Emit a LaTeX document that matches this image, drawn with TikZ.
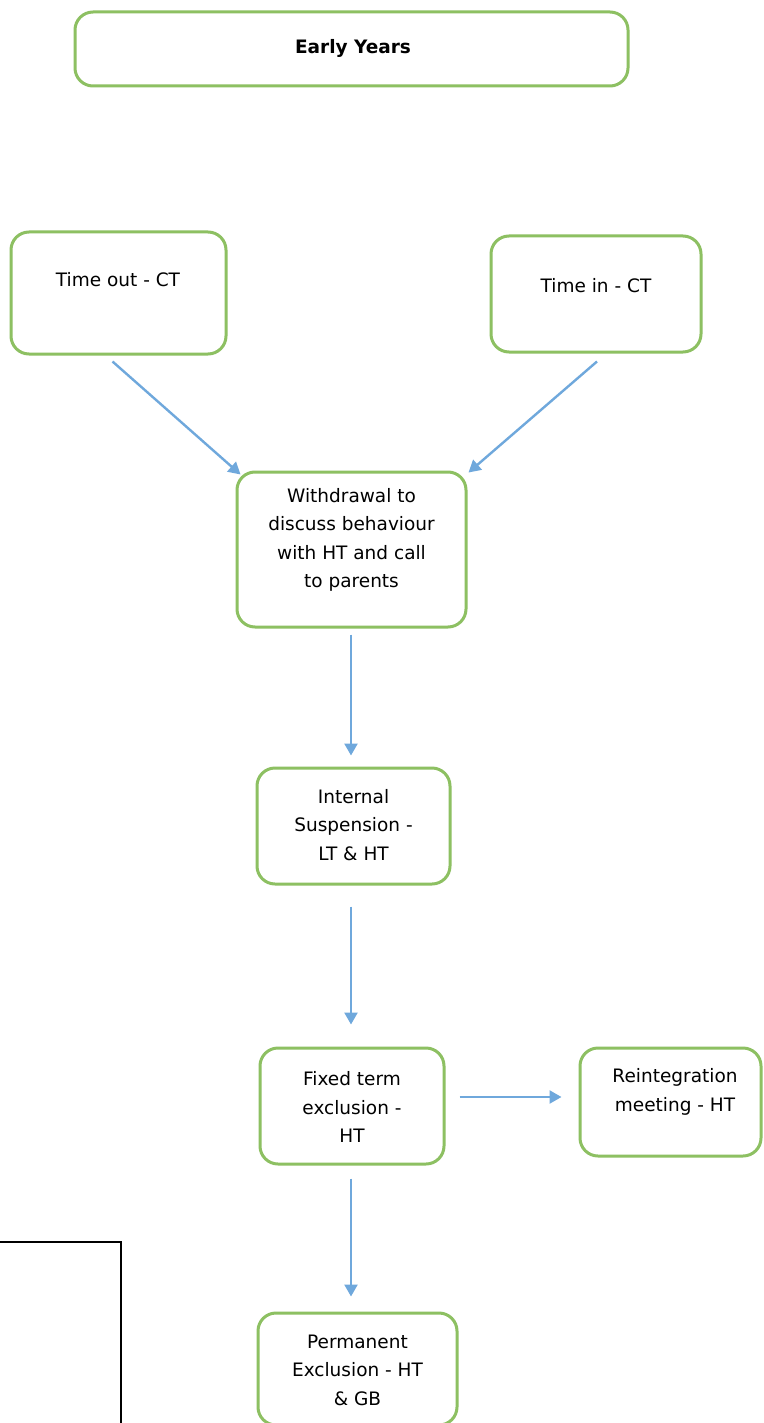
\documentclass[tikz,border=0pt]{standalone}
\usepackage{fontspec}
\setmainfont{DejaVu Sans}
\usetikzlibrary{arrows.meta,calc}
\definecolor{boxgreen}{RGB}{141,192,98}
\definecolor{arrblue}{RGB}{111,168,220}
\tikzset{
  box/.style={draw=boxgreen, line width=3pt, rounded corners=18pt, fill=white, rectangle, inner sep=0pt},
  txt/.style={align=center, font=\fontsize{18.5}{28.5}\selectfont, text=black, inner sep=0pt},
  conn/.style={draw=arrblue, line width=2.4pt, -{Triangle[length=12pt,width=13pt]}}
}
\begin{document}
\begin{tikzpicture}[x=1pt,y=-1pt]
\useasboundingbox (0,0) rectangle (763,1423);
\clip (0,0) rectangle (763,1423);
\fill[white] (0,0) rectangle (763,1423);
% boxes
\node[box, minimum width=553pt, minimum height=74pt] (early) at (351.5,49) {};
\node[txt, font=\fontsize{18.5}{22}\selectfont\bfseries] (earlyT) at (353,48) {Early Years};
\node[box, minimum width=215pt, minimum height=122pt] (timeout) at (118.5,293) {};
\node[txt] (timeoutT) at (118,280) {Time out - CT};
\node[box, minimum width=210pt, minimum height=116pt] (timein) at (596,294) {};
\node[txt] (timeinT) at (596,286) {Time in - CT};
\node[box, minimum width=229pt, minimum height=155pt] (withdraw) at (351.5,549.5) {};
\node[txt] (withdrawT) at (351.5,540) {Withdrawal to\\discuss behaviour\\with HT and call\\to parents};
\node[box, minimum width=193pt, minimum height=116pt] (internal) at (353.5,826) {};
\node[txt] (internalT) at (353.5,825) {Internal\\Suspension -\\LT \& HT};
\node[box, minimum width=184pt, minimum height=116pt] (fixed) at (352,1106) {};
\node[txt] (fixedT) at (352,1107) {Fixed term\\exclusion -\\HT};
\node[box, minimum width=181pt, minimum height=108pt] (reint) at (670.5,1102) {};
\node[txt] (reintT) at (675,1092) {Reintegration\\meeting - HT};
\node[box, minimum width=199pt, minimum height=112pt] (perm) at (357.5,1369) {};
\node[txt] (permT) at (357.5,1370) {Permanent\\Exclusion - HT\\\& GB};
% black rectangle
\draw[black, line width=2.2pt] (-5,1242) rectangle (121,1440);
% arrows
\draw[conn] ($(timeout.south)+(-6,6)$) -- ($(withdraw.north west)+(5,4)$);
\draw[conn] ($(timein.south)+(1,8)$) -- ($(withdraw.north east)+(1,2)$);
\draw[conn] ($(withdraw.south)+(-0.5,6)$) -- ($(internal.north)+(-2.5,-11)$);
\draw[conn] ($(internal.south)+(-2.5,21)$) -- ($(fixed.north)+(-1,-22)$);
\draw[conn] ($(fixed.east)+(14,-9)$) -- ($(reint.west)+(-17,-5)$);
\draw[conn] ($(fixed.south)+(-1,13)$) -- ($(perm.north)+(-6.5,-15)$);
\end{tikzpicture}
\end{document}
